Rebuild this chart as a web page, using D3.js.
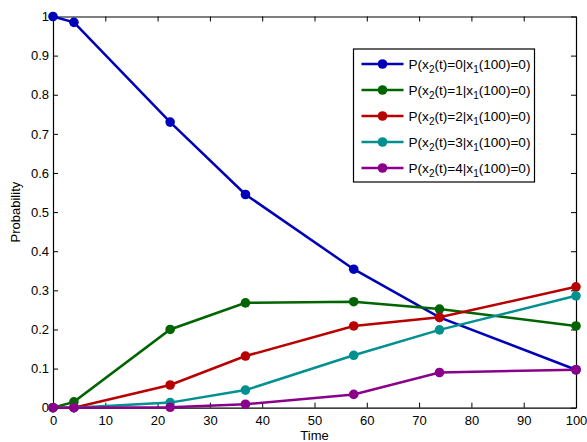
<!DOCTYPE html>
<html>
<head>
<meta charset="utf-8">
<script src="https://cdn.jsdelivr.net/npm/d3@7"></script>
<style>
  body { margin: 0; background: #fff; }
  svg { font-family: "Liberation Sans", Arial, sans-serif; }
</style>
</head>
<body>
<div id="chart"></div>
<script>
// Data
const TIMES = [0, 4, 22.4, 36.8, 57.5, 73.9, 100]
const P0 = [1, 0.985, 0.73, 0.545, 0.354, 0.231, 0.097]
const P1 = [0, 0.015, 0.2, 0.268, 0.271, 0.252, 0.209]
const P2 = [0, 0, 0.058, 0.132, 0.209, 0.231, 0.309]
const P3 = [0, 0, 0.013, 0.045, 0.134, 0.199, 0.286]
const P4 = [0, 0, 0.001, 0.009, 0.034, 0.09, 0.097]
const STATES = [0, 1, 2, 3, 4]
const SERIES = [P0, P1, P2, P3, P4]
const COLORS = ['#0000b8', '#006400', '#b80000', '#009090', '#8b008b']
const X_TICKS = [0, 10, 20, 30, 40, 50, 60, 70, 80, 90, 100]
const Y_TICKS = [0, 0.1, 0.2, 0.3, 0.4, 0.5, 0.6, 0.7, 0.8, 0.9, 1]

// Dimensions
const WIDTH = 587
const HEIGHT = 442
const margin = {left: 53, right: 11, top: 16.5, bottom: 34.3}

var svg = d3.select('#chart').append('svg')
    .attr('width', WIDTH)
    .attr('height', HEIGHT)

var x = d3.scaleLinear().domain([0, 100]).range([margin.left, WIDTH - margin.right])
var y = d3.scaleLinear().domain([0, 1]).range([HEIGHT - margin.bottom, margin.top])

// Axes (ticks pointing inward, mirrored on top/right)
svg.append('g')
    .attr('transform', 'translate(0,' + y(0) + ')')
    .call(d3.axisBottom(x).tickValues(X_TICKS).tickSizeInner(-5).tickSizeOuter(0).tickPadding(8))
svg.append('g')
    .attr('transform', 'translate(0,' + y(1) + ')')
    .call(d3.axisTop(x).tickValues(X_TICKS).tickSizeInner(-5).tickSizeOuter(0).tickFormat(''))
svg.append('g')
    .attr('transform', 'translate(' + x(0) + ',0)')
    .call(d3.axisLeft(y).tickValues(Y_TICKS).tickSizeInner(-5).tickSizeOuter(0).tickPadding(4).tickFormat(d3.format('')))
svg.append('g')
    .attr('transform', 'translate(' + x(100) + ',0)')
    .call(d3.axisRight(y).tickValues(Y_TICKS).tickSizeInner(-5).tickSizeOuter(0).tickFormat(''))

svg.selectAll('.domain').attr('stroke', '#000').attr('stroke-width', 1.2)
svg.selectAll('.tick line').attr('stroke', '#000')
svg.selectAll('.tick text').attr('font-size', 13).attr('fill', '#000')
    .attr('font-family', '"Liberation Sans", Arial, sans-serif')

// Axis labels
svg.append('text')
    .attr('x', (x(0) + x(100)) / 2)
    .attr('y', 440)
    .attr('text-anchor', 'middle')
    .attr('font-size', 13)
    .text('Time')
svg.append('text')
    .attr('transform', 'translate(20,' + (y(0) + y(1)) / 2 + ') rotate(-90)')
    .attr('text-anchor', 'middle')
    .attr('font-size', 13)
    .text('Probability')

// Lines + markers
var line = d3.line().x((d, i) => x(TIMES[i])).y(d => y(d))
SERIES.forEach(function(vals, k) {
    var g = svg.append('g')
    g.append('path')
        .attr('d', line(vals))
        .attr('fill', 'none')
        .attr('stroke', COLORS[k])
        .attr('stroke-width', 2.5)
    g.selectAll('circle').data(vals).enter().append('circle')
        .attr('cx', (d, i) => x(TIMES[i]))
        .attr('cy', d => y(d))
        .attr('r', 4.8)
        .attr('fill', COLORS[k])
})

// Legend
var legend = svg.append('g').attr('transform', 'translate(353.5,49)')
legend.append('rect')
    .attr('width', 181)
    .attr('height', 133)
    .attr('fill', '#fff')
    .attr('stroke', '#000')
    .attr('stroke-width', 1.2)
STATES.forEach(function(s, k) {
    var row = legend.append('g').attr('transform', 'translate(0,' + (15 + k * 26) + ')')
    row.append('line')
        .attr('x1', 8).attr('x2', 50)
        .attr('stroke', COLORS[k]).attr('stroke-width', 2.5)
    row.append('circle').attr('cx', 29).attr('r', 4.8).attr('fill', COLORS[k])
    var t = row.append('text').attr('x', 55).attr('y', 4.5).attr('font-size', 13.6)
    t.append('tspan').text('P(x')
    t.append('tspan').attr('dy', 4).attr('font-size', 10).text('2')
    t.append('tspan').attr('dy', -4).text('(t)=' + s + '|x')
    t.append('tspan').attr('dy', 4).attr('font-size', 10).text('1')
    t.append('tspan').attr('dy', -4).text('(100)=0)')
})
</script>
</body>
</html>
